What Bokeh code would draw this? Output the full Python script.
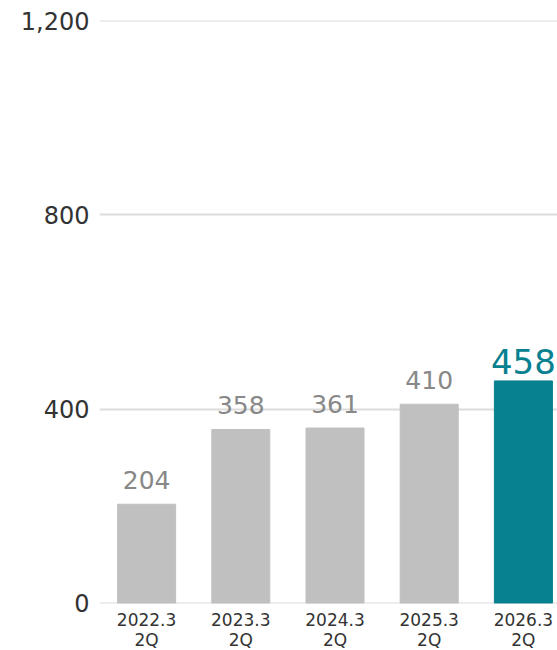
from bokeh.plotting import figure
from bokeh.models import ColumnDataSource, FixedTicker, NumeralTickFormatter, Range1d
from bokeh.core.properties import value
from bokeh.embed import file_html
from bokeh.resources import INLINE

categories = ["2022.3\n2Q", "2023.3\n2Q", "2024.3\n2Q", "2025.3\n2Q", "2026.3\n2Q"]
values = [204, 358, 361, 410, 458]
y_ticks = [0, 400, 800, 1200]

FONT = "DejaVu Sans"
GRAY = "#c0c0c0"
TEAL = "#07808f"

xs = list(range(len(categories)))
colors = [GRAY] * (len(values) - 1) + [TEAL]

p = figure(frame_width=458, frame_height=583, output_backend="svg", toolbar_location=None,
           x_range=Range1d(-0.5, 4.362), y_range=Range1d(-0.5, 1200.5),
           min_border_left=99, min_border_right=0, min_border_top=20, min_border_bottom=0)
p.outline_line_color = None
p.background_fill_color = "white"
p.border_fill_color = "white"

# gridlines
p.xgrid.grid_line_color = None
p.ygrid.grid_line_color = "#dcdcdc"
p.ygrid.grid_line_width = 2
p.ygrid.ticker = FixedTicker(ticks=y_ticks)

src = ColumnDataSource(dict(x=xs, top=values, color=colors))
p.vbar(x="x", top="top", width=0.616, bottom=0, color="color", source=src)

# value labels
gsrc = ColumnDataSource(dict(x=xs[:-1], y=values[:-1], label=[str(v) for v in values[:-1]]))
p.text(x="x", y="y", text="label", source=gsrc, text_align="center", text_baseline="alphabetic",
       y_offset=-24, text_font=value(FONT), text_font_size="25px", text_color="#888888")
lsrc = ColumnDataSource(dict(x=xs[-1:], y=values[-1:], label=[str(v) for v in values[-1:]]))
p.text(x="x", y="y", text="label", source=lsrc, text_align="center", text_baseline="alphabetic",
       y_offset=-19, text_font=value(FONT), text_font_size="34px", text_color=TEAL)

# axes
p.yaxis.ticker = FixedTicker(ticks=y_ticks)
p.yaxis.formatter = NumeralTickFormatter(format="0,0")
p.yaxis.axis_line_color = None
p.yaxis.major_tick_line_color = None
p.yaxis.minor_tick_line_color = None
p.yaxis.major_tick_out = 0
p.yaxis.major_tick_in = 0
p.yaxis.major_label_standoff = 10
p.yaxis.major_label_text_font = FONT
p.yaxis.major_label_text_font_size = "24px"
p.yaxis.major_label_text_color = "#333333"

p.xaxis.ticker = FixedTicker(ticks=xs)
p.xaxis.major_label_overrides = {i: c for i, c in enumerate(categories)}
p.xaxis.axis_line_color = None
p.xaxis.major_tick_line_color = None
p.xaxis.minor_tick_line_color = None
p.xaxis.major_tick_out = 0
p.xaxis.major_tick_in = 0
p.xaxis.major_label_standoff = 6
p.xaxis.major_label_text_font = FONT
p.xaxis.major_label_text_font_size = "17px"
p.xaxis.major_label_text_color = "#333333"
p.xaxis.major_label_text_line_height = 1.0

open("out.html", "w").write(file_html(p, INLINE))
